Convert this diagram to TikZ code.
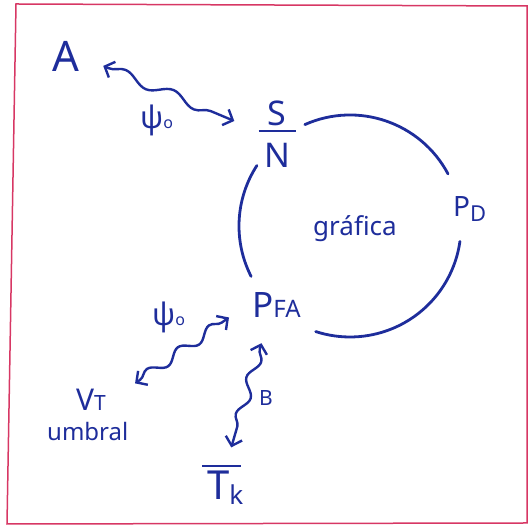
\documentclass[tikz,border=0pt]{standalone}
\usepackage{fontspec}
\setmainfont{Noto Sans}
\usetikzlibrary{arrows.meta,decorations.pathmorphing}

\definecolor{ink}{RGB}{30,45,155}
\definecolor{edge}{RGB}{215,55,100}
\newcommand\fs[2]{{\fontsize{#1}{#1}\selectfont#2}}

\begin{document}
\begin{tikzpicture}[x=1pt,y=1pt,>={Straight Barb[length=8pt,width=17pt]},
  lbl/.style={text=ink,inner sep=0pt,anchor=base west},
  wave/.style={draw=ink,line width=2.4pt,line cap=round,<->,decorate,
    decoration={snake,segment length=#1,amplitude=5pt,pre length=6pt,post length=6pt}},
  wave/.default=50pt,
  arcline/.style={draw=ink,line width=2.8pt,line cap=round}]
\useasboundingbox (0,0) rectangle (528,526);
\draw[edge,line width=1.5pt] (16,522) -- (527,520) -- (527,3) -- (7,2) -- cycle;
% labels
\node[lbl] (a) at (52,454) {\fs{42}{A}};
\node[lbl,anchor=center,align=center,font=\fontsize{34}{40}\selectfont] (sn) at (277,392)
  {S\\[-33pt]\rule{37pt}{2.4pt}\\[-5pt]N};
\node[lbl] (pd) at (453,309) {\fs{28}{P}\raisebox{-5pt}{\fs{22}{D}}};
\node[lbl] (pfa) at (252,208) {\fs{35}{P}\fs{24}{FA}};
\node[lbl] (graf) at (313,290) {\fs{26}{gráfica}};
\node[lbl] (vt) at (76,115) {\fs{30}{V}\fs{21}{T}};
\node[lbl] (umb) at (47,85) {\fs{24}{umbral}};
\node[lbl] (tk) at (207,26) {\fs{40}{\makebox[0pt][l]{\kern-5pt\rule[33pt]{39pt}{2.4pt}}T}\raisebox{-5pt}{\fs{26}{k}}};
\node[lbl] (b) at (259,120) {\fs{21}{B}};
\node[lbl] (psia) at (140,397) {\fs{31}{ψ}\fs{16}{o}};
\node[lbl] (psib) at (152,200) {\fs{31}{ψ}\fs{16}{o}};
% the closed curve
\coordinate (c) at (350,300);
\draw[arcline] (c) ++(114:111pt) arc[start angle=114,end angle=28,radius=111pt];
\draw[arcline] (c) ++(-8:111pt) arc[start angle=-8,end angle=-108,radius=111pt];
\draw[arcline] (c) ++(147:111pt) arc[start angle=147,end angle=207,radius=111pt];
% wavy links
\draw[wave=52pt] ([shift={(24,-9)}]a.east) -- ([shift={(-24,13)}]sn.west);
\draw[wave=38pt] ([shift={(29,6)}]vt.north east) -- ([shift={(-23,-12)}]pfa.west);
\draw[wave=38pt] ([shift={(-15,-25)}]pfa.south) -- ([shift={(6,17)}]tk.north);
\end{tikzpicture}
\end{document}
